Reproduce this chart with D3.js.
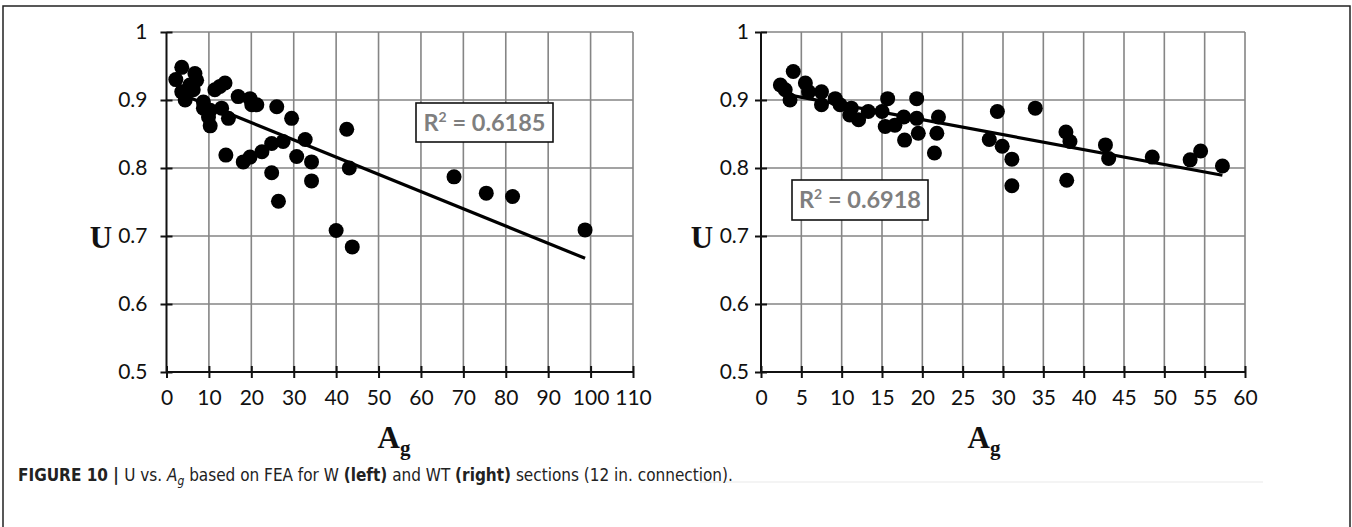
<!DOCTYPE html>
<html>
<head>
<meta charset="utf-8">
<script src="https://cdn.jsdelivr.net/npm/d3@7"></script>
<style>
  html, body { margin: 0; padding: 0; background: #fff; }
  svg { display: block; }
</style>
</head>
<body>
<svg id="fig" width="1352" height="527"></svg>
<script>
// U vs. Ag, W sections (left panel)
const wAg = [3.6, 2.2, 6.7, 7.1, 3.6, 4.4, 6.3, 5.5, 8.7, 8.7, 10.3, 9.9, 10.3, 11.4, 13.8, 12.6, 13.0, 14.6,
             16.9, 19.7, 20.1, 21.3, 26.0, 29.5, 42.5, 14.0, 18.1, 19.7, 22.5, 24.8, 27.5, 32.7, 30.7, 34.2,
             24.8, 34.2, 43.1, 26.4, 40.0, 43.8, 67.8, 75.4, 81.6, 98.7];
const wU  = [0.948, 0.930, 0.939, 0.929, 0.912, 0.900, 0.915, 0.922, 0.897, 0.888, 0.885, 0.875, 0.862, 0.915, 0.925, 0.920, 0.888, 0.873,
             0.905, 0.902, 0.893, 0.893, 0.890, 0.873, 0.857, 0.819, 0.809, 0.816, 0.824, 0.836, 0.839, 0.842, 0.817, 0.809,
             0.793, 0.781, 0.800, 0.751, 0.708, 0.684, 0.787, 0.763, 0.758, 0.709];

// U vs. Ag, WT sections (right panel)
const wtAg = [2.4, 4.0, 3.6, 3.0, 5.5, 5.9, 7.5, 7.5, 9.2, 9.8, 11.2, 11.0, 12.1, 13.3, 15.0, 15.4, 15.7, 16.6,
              17.7, 17.8, 19.3, 19.3, 19.5, 22.0, 21.8, 21.5, 29.3, 28.3, 29.9, 31.1, 31.1, 34.0, 37.8, 38.3,
              37.9, 42.7, 43.1, 48.5, 53.2, 54.5, 57.2];
const wtU  = [0.922, 0.942, 0.900, 0.915, 0.925, 0.912, 0.912, 0.893, 0.902, 0.893, 0.888, 0.878, 0.871, 0.883, 0.883, 0.861, 0.902, 0.863,
              0.875, 0.841, 0.902, 0.873, 0.851, 0.875, 0.851, 0.822, 0.883, 0.842, 0.832, 0.813, 0.774, 0.888, 0.853, 0.839,
              0.782, 0.834, 0.814, 0.816, 0.812, 0.825, 0.803];

// linear trendlines: [intercept, slope]
const wFit  = [0.9175, -0.002536];
const wtFit = [0.915, -0.002196];
const wR2 = "0.6185";
const wtR2 = "0.6918";

// tick values
const uTicks  = [0.5, 0.6, 0.7, 0.8, 0.9, 1];
const wTicks  = [0, 10, 20, 30, 40, 50, 60, 70, 80, 90, 100, 110];
const wtTicks = [0, 5, 10, 15, 20, 25, 30, 35, 40, 45, 50, 55, 60];

const svg = d3.select("#fig");
const TICK_FONT = "Lato, 'Open Sans', 'Liberation Sans', sans-serif";
const LABEL_FONT = "'Liberation Serif', 'DejaVu Serif', serif";

// outer frame (top, left, right edges)
svg.append("path")
  .attr("d", "M3,527 L3,6 L1350,6 L1350,527")
  .attr("fill", "none").attr("stroke", "#222").attr("stroke-width", 1.5);

// faint edge of the right figure image
svg.append("line")
  .attr("x1", 700).attr("x2", 1263).attr("y1", 482).attr("y2", 482)
  .attr("stroke", "#f0f0f0").attr("stroke-width", 1.5);

function fmtU(d) { return d === 1 ? "1" : d3.format(".1f")(d); }

function drawPanel(opt) {
  const x = d3.scaleLinear().domain([0, opt.xMax]).range([opt.x0, opt.x1]);
  const y = d3.scaleLinear().domain([0.5, 1]).range([372, 32]);
  const g = svg.append("g");

  // grid
  g.append("g").selectAll("line").data(uTicks.filter(d => d > 0.5)).join("line")
    .attr("x1", x(0)).attr("x2", x(opt.xMax))
    .attr("y1", d => y(d)).attr("y2", d => y(d))
    .attr("stroke", "#858585").attr("stroke-width", 1.6);
  g.append("g").selectAll("line").data(opt.xTicks.filter(d => d > 0)).join("line")
    .attr("x1", d => x(d)).attr("x2", d => x(d))
    .attr("y1", y(0.5)).attr("y2", y(1))
    .attr("stroke", "#858585").attr("stroke-width", 1.6);

  // y axis
  const ya = g.append("g").attr("transform", `translate(${x(0)},0)`)
    .call(d3.axisLeft(y).tickValues(uTicks).tickFormat(fmtU).tickSize(6).tickPadding(opt.yPad));
  ya.select(".domain").attr("stroke", "#111").attr("stroke-width", 2).attr("d", `M0,${y(0.5)}V${y(1)}`);
  ya.selectAll(".tick line").attr("x1", 6).attr("x2", -6).attr("stroke", "#111").attr("stroke-width", 2);
  ya.selectAll(".tick text").attr("font-family", TICK_FONT).attr("font-size", 21).attr("fill", "#111");

  // x axis
  const xa = g.append("g").attr("transform", `translate(0,${y(0.5)})`)
    .call(d3.axisBottom(x).tickValues(opt.xTicks).tickSize(6).tickPadding(12));
  xa.select(".domain").attr("stroke", "#111").attr("stroke-width", 2).attr("d", `M${x(0)},0H${x(opt.xMax)}`);
  xa.selectAll(".tick line").attr("y1", -6).attr("y2", 6).attr("stroke", "#111").attr("stroke-width", 2);
  xa.selectAll(".tick text").attr("font-family", TICK_FONT).attr("font-size", 21).attr("fill", "#111");

  // axis titles
  g.append("text").attr("x", opt.uX).attr("y", 248).attr("text-anchor", "middle")
    .attr("font-family", LABEL_FONT).attr("font-weight", "bold").attr("font-size", 31).attr("fill", "#111")
    .text("U");
  const at = g.append("text").attr("x", opt.agX).attr("y", 448).attr("text-anchor", "middle")
    .attr("font-family", LABEL_FONT).attr("font-weight", "bold").attr("font-size", 31).attr("fill", "#111");
  at.append("tspan").text("A");
  at.append("tspan").attr("font-size", 21).attr("dy", 7).text("g");

  // points
  const pts = opt.ag.map((a, i) => [a, opt.u[i]]);
  g.append("g").selectAll("circle").data(pts).join("circle")
    .attr("cx", d => x(d[0])).attr("cy", d => y(d[1])).attr("r", 7.5).attr("fill", "#000");

  // trendline over the data range
  const lo = d3.min(opt.ag), hi = d3.max(opt.ag);
  const f = v => opt.fit[0] + opt.fit[1] * v;
  g.append("line")
    .attr("x1", x(lo)).attr("y1", y(f(lo))).attr("x2", x(hi)).attr("y2", y(f(hi)))
    .attr("stroke", "#000").attr("stroke-width", 3.2).attr("stroke-linecap", "butt");

  // R² label
  const b = opt.box;
  g.append("rect").attr("x", b[0]).attr("y", b[1]).attr("width", b[2]).attr("height", b[3])
    .attr("fill", "#fff").attr("stroke", "#111").attr("stroke-width", 1.6);
  const rt = g.append("text").attr("x", b[0] + b[2] / 2).attr("y", b[1] + b[3] / 2 + 8)
    .attr("text-anchor", "middle").attr("font-family", TICK_FONT).attr("font-weight", "bold")
    .attr("font-size", 23.5).attr("fill", "#7f7f7f");
  rt.append("tspan").text("R");
  rt.append("tspan").attr("font-size", 14).attr("dy", -9).text("2");
  rt.append("tspan").attr("dy", 9).text(" = " + opt.r2);
}

drawPanel({ xMax: 110, x0: 166.5, x1: 633, xTicks: wTicks, ag: wAg, u: wU, fit: wFit, r2: wR2,
            box: [416, 103, 137, 39], uX: 101, agX: 394, yPad: 13 });
drawPanel({ xMax: 60, x0: 761, x1: 1245, xTicks: wtTicks, ag: wtAg, u: wtU, fit: wtFit, r2: wtR2,
            box: [792, 180, 136, 40], uX: 702, agX: 984, yPad: 6 });

// caption
const cap = svg.append("text").attr("x", 18).attr("y", 481)
  .attr("font-family", "'Liberation Sans Narrow', 'DejaVu Sans Condensed', 'Liberation Sans', sans-serif")
  .attr("font-size", 17).attr("fill", "#222");
cap.append("tspan").attr("font-weight", "bold").text("FIGURE 10 | ");
cap.append("tspan").text("U vs. ");
cap.append("tspan").attr("font-style", "italic").text("A");
cap.append("tspan").attr("font-style", "italic").attr("font-size", 12).attr("dy", 4).text("g");
cap.append("tspan").attr("dy", -4).text(" based on FEA for W ");
cap.append("tspan").attr("font-weight", "bold").text("(left)");
cap.append("tspan").text(" and WT ");
cap.append("tspan").attr("font-weight", "bold").text("(right)");
cap.append("tspan").text(" sections (12 in. connection).");
</script>
</body>
</html>
